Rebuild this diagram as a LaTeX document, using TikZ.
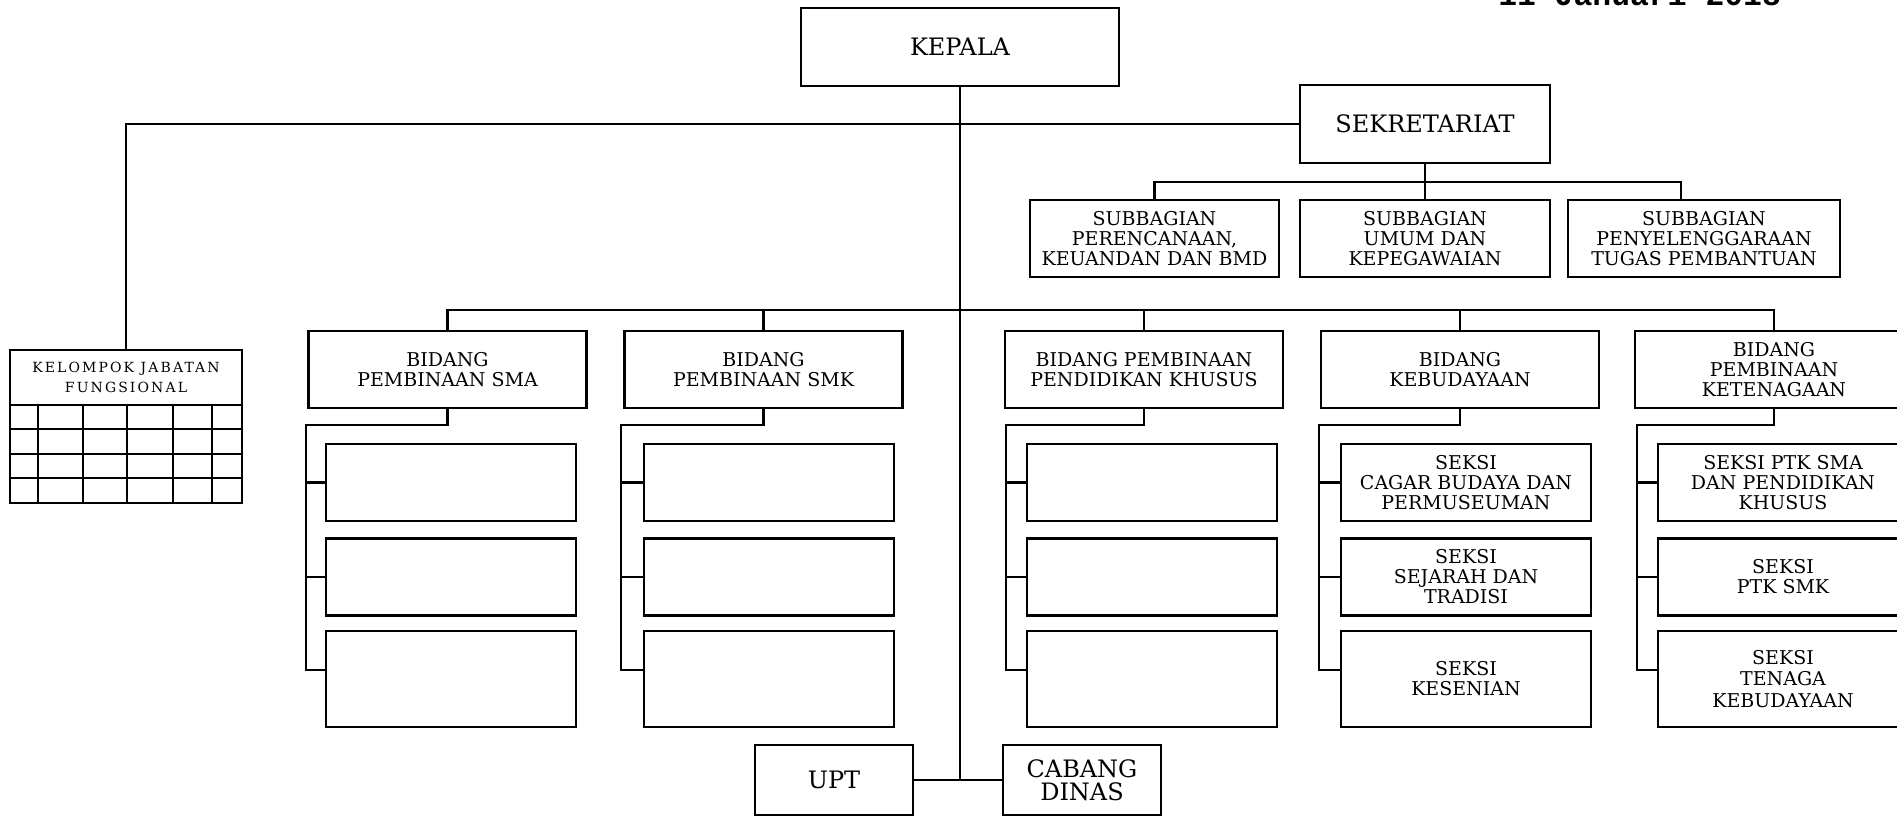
\documentclass[tikz,border=0pt]{standalone}
\usepackage{fontspec}
\setmainfont{DejaVu Serif}
\newfontfamily\kjffont{DejaVu Serif}[LetterSpace=15]
\newfontfamily\datefont{Liberation Mono}
\begin{document}
\begin{tikzpicture}[x=0.5pt,y=-0.5pt,line width=1.25pt,
  box/.style={draw, line width=1.25pt, inner sep=0pt, align=center, font=\fontsize{9.5}{10}\selectfont},
  bigbox/.style={box, font=\fontsize{12}{11.5}\selectfont},
  bidbox/.style={box, minimum width=139pt, minimum height=38.5pt},
  secbox/.style={box, minimum width=125pt, minimum height=38.5pt},
  secboxl/.style={box, minimum width=125pt, minimum height=48pt}]
\useasboundingbox (0,0) rectangle (1897,817);

% date (cut off at top, as in the reference)
\node[anchor=base west, inner sep=0pt, font=\datefont\bfseries\fontsize{15.7}{16}\selectfont] (date) at (1497,6) {11 Januari 2018};

% top level
\node[bigbox, minimum width=159pt, minimum height=39pt] (kepala) at (960,47) {KEPALA};
\node[bigbox, minimum width=125pt, minimum height=39pt] (sek) at (1425,124) {SEKRETARIAT};
\node[box, minimum width=124.5pt, minimum height=38.5pt] (sb1) at (1154.5,238.5) {SUBBAGIAN\\PERENCANAAN,\\KEUANDAN DAN BMD};
\node[box, minimum width=125pt, minimum height=38.5pt] (sb2) at (1425,238.5) {SUBBAGIAN\\UMUM DAN\\KEPEGAWAIAN};
\node[box, minimum width=136pt, minimum height=38.5pt] (sb3) at (1704,238.5) {SUBBAGIAN\\PENYELENGGARAAN\\TUGAS PEMBANTUAN};

% kelompok jabatan fungsional
\node[draw, line width=1.25pt, inner sep=0pt, minimum width=116pt, minimum height=27.5pt, align=center, font=\kjffont\fontsize{7}{10}\selectfont] (kjf) at (126,377.5) {KELOMPOK JABATAN\\FUNGSIONAL};
\draw (10,405) rectangle (242,503);
\foreach \yy in {429,454,478} \draw (10,\yy) -- (242,\yy);
\foreach \xx in {38,83,127,173,212} \draw (\xx,405) -- (\xx,503);

% bidang
\node[bidbox] (sma) at (447.5,369.5) {BIDANG\\PEMBINAAN SMA};
\node[bidbox] (smk) at (763.5,369.5) {BIDANG\\PEMBINAAN SMK};
\node[bidbox] (khusus) at (1144,369.5) {BIDANG PEMBINAAN\\PENDIDIKAN KHUSUS};
\node[bidbox] (budaya) at (1460,369.5) {BIDANG\\KEBUDAYAAN};
\node[bidbox] (tenaga) at (1774,369.5) {BIDANG\\PEMBINAAN\\KETENAGAAN};

% seksi
\node[secbox] (sma-1) at (451,482.5) {};
\node[secbox] (sma-2) at (451,577) {};
\node[secboxl] (sma-3) at (451,679) {};
\node[secbox] (smk-1) at (769,482.5) {};
\node[secbox] (smk-2) at (769,577) {};
\node[secboxl] (smk-3) at (769,679) {};
\node[secbox] (khusus-1) at (1152,482.5) {};
\node[secbox] (khusus-2) at (1152,577) {};
\node[secboxl] (khusus-3) at (1152,679) {};
\node[secbox] (budaya-1) at (1466,482.5) {SEKSI\\CAGAR BUDAYA DAN\\PERMUSEUMAN};
\node[secbox] (budaya-2) at (1466,577) {SEKSI\\SEJARAH DAN\\TRADISI};
\node[secboxl] (budaya-3) at (1466,679) {SEKSI\\KESENIAN};
\node[secbox] (tenaga-1) at (1783,482.5) {SEKSI PTK SMA\\DAN PENDIDIKAN\\KHUSUS};
\node[secbox] (tenaga-2) at (1783,577) {SEKSI\\PTK SMK};
\node[secboxl, font=\fontsize{9.5}{10.75}\selectfont] (tenaga-3) at (1783,679) {SEKSI\\TENAGA\\KEBUDAYAAN};

% upt / cabang
\node[bigbox, minimum width=79pt, minimum height=35pt] (upt) at (834,780) {UPT};
\node[bigbox, minimum width=79pt, minimum height=35pt] (cabang) at (1082,780) {CABANG\\DINAS};

% connectors
\draw (kepala.south) -- (kepala.south |- upt.east);
\draw (upt.east) -- (cabang.west);
\draw (kjf.north) |- (sek.west);
\draw (sek.south) -- (sb2.north);
\coordinate (sbR) at (1681,182);
\draw (sb1.north) |- (sbR) -- (sbR |- sb3.north);
\coordinate (barR) at (1774,310);
\draw (sma.north) |- (barR) -- (tenaga.north);
\foreach \n in {smk,khusus,budaya} \draw (\n.north) -- (\n.north |- barR);
\foreach \c/\bx in {sma/306,smk/621,khusus/1006,budaya/1319,tenaga/1637} {
  \coordinate (\c-k) at (\bx,425);
  \draw (\c.south) |- (\c-k) |- ([yshift=4.5pt]\c-3.west);
  \draw (\c-1.west) -- (\c-1.west -| \c-k);
  \draw (\c-2.west) -- (\c-2.west -| \c-k);
}
\end{tikzpicture}
\end{document}
